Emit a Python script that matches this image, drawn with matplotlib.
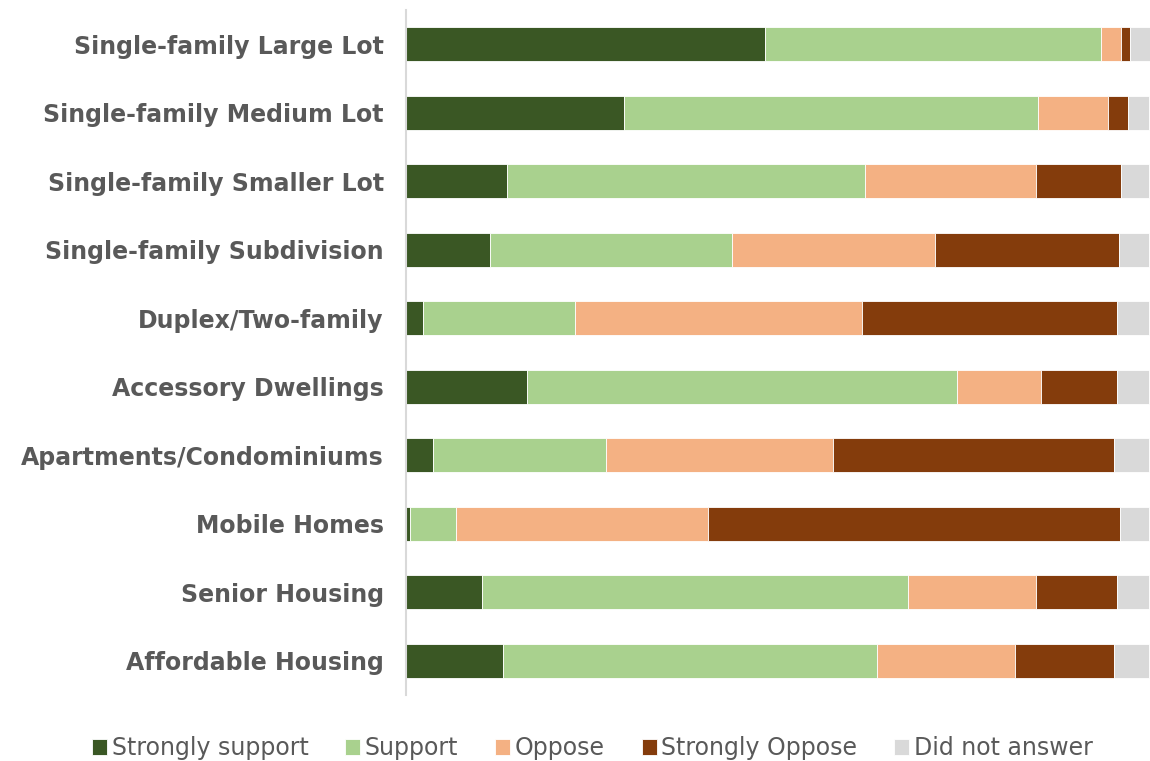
import matplotlib
matplotlib.use("Agg")
import matplotlib.pyplot as plt
import numpy as np

categories = [
    "Single-family Large Lot",
    "Single-family Medium Lot",
    "Single-family Smaller Lot",
    "Single-family Subdivision",
    "Duplex/Two-family",
    "Accessory Dwellings",
    "Apartments/Condominiums",
    "Mobile Homes",
    "Senior Housing",
    "Affordable Housing",
]

strongly_support = [48.3, 29.4, 13.6, 11.3, 2.3, 16.3, 3.6, 0.5, 10.2, 13.0]
support = [45.2, 55.6, 48.1, 32.5, 20.4, 57.8, 23.3, 6.3, 57.4, 50.4]
oppose = [2.7, 9.4, 23.1, 27.4, 38.6, 11.3, 30.5, 33.9, 17.2, 18.5]
strongly_oppose = [1.2, 2.8, 11.4, 24.7, 34.3, 10.2, 37.9, 55.4, 10.8, 13.3]
did_not_answer = [2.7, 2.7, 3.8, 4.0, 4.4, 4.4, 4.7, 3.9, 4.4, 4.7]

series_names = ["Strongly support", "Support", "Oppose", "Strongly Oppose", "Did not answer"]
colors = ["#3a5724", "#a9d18e", "#f4b183", "#843c0c", "#d9d9d9"]

fig = plt.figure(figsize=(11.5, 7.61), dpi=100)
ax = fig.add_axes([0.353, 0.0867, 0.647, 0.900])

y = np.arange(len(categories))
left = np.zeros(len(categories))
for name, vals, col in zip(series_names,
                           [strongly_support, support, oppose, strongly_oppose, did_not_answer],
                           colors):
    vals = np.array(vals)
    ax.barh(y, vals, left=left, height=0.5, color=col, label=name,
            edgecolor="white", linewidth=0.6)
    left += vals

ax.set_ylim(len(categories) - 0.5, -0.5)
ax.set_xlim(0, left.max())
ax.set_yticks(y)
ax.set_yticklabels(categories, fontsize=17, fontweight="bold", color="#595959")
ax.tick_params(axis="y", length=0, pad=16)
ax.set_xticks([])
for side in ["top", "right", "bottom"]:
    ax.spines[side].set_visible(False)
ax.spines["left"].set_color("#d9d9d9")
ax.spines["left"].set_linewidth(1.5)

handles, labels = ax.get_legend_handles_labels()
fig.legend(handles, labels, loc="center", bbox_to_anchor=(0.515, 0.017),
           ncol=5, frameon=False, fontsize=17, labelcolor="#595959",
           handlelength=0.64, handleheight=0.64, handletextpad=0.2, columnspacing=1.55)

fig.savefig("out.png", dpi=100)
